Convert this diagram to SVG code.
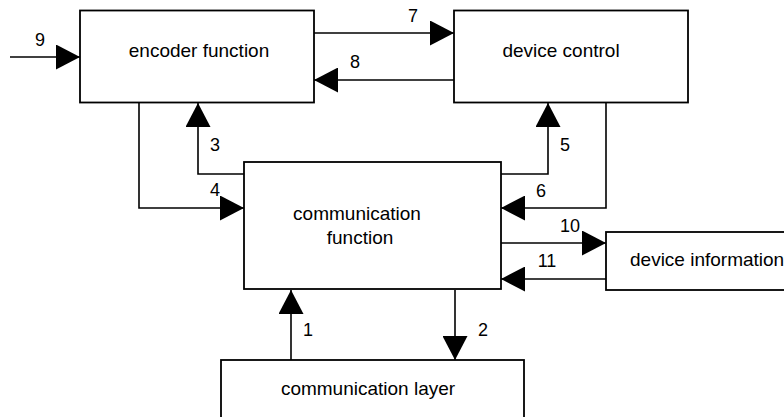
<svg xmlns="http://www.w3.org/2000/svg" width="784" height="417" viewBox="0 0 784 417">
<style>
.box{fill:#fff;stroke:#000;stroke-width:1.8}
.t{font-family:"Liberation Sans",Arial,sans-serif;font-size:19px;fill:#000}
.n{font-family:"Liberation Sans",Arial,sans-serif;font-size:18px;fill:#000;text-anchor:middle}
.c{fill:none;stroke:#000;stroke-width:1.6}
</style>
<defs>
<marker id="ah" markerUnits="userSpaceOnUse" markerWidth="24" markerHeight="25" refX="24" refY="12.5" orient="auto">
<path d="M0,0 L24,12.5 L0,25 Z" fill="#000"/>
</marker>
</defs>
<rect width="784" height="417" fill="#fff"/>
<g id="encoder">
<rect class="box" x="80" y="10.5" width="234" height="92"/>
<text class="t" x="199" y="57" text-anchor="middle">encoder function</text>
</g>
<g id="device-control">
<rect class="box" x="454" y="10.5" width="234" height="92"/>
<text class="t" x="561" y="57" text-anchor="middle">device control</text>
</g>
<g id="communication-function">
<rect class="box" x="244" y="162" width="257" height="127"/>
<text class="t" x="357" y="220" text-anchor="middle">communication</text>
<text class="t" x="360" y="244" text-anchor="middle">function</text>
</g>
<g id="device-information">
<rect class="box" x="606" y="232" width="200" height="58"/>
<text class="t" x="630" y="266">device information</text>
</g>
<g id="communication-layer">
<rect class="box" x="221" y="360" width="303" height="70"/>
<text class="t" x="368" y="395" text-anchor="middle">communication layer</text>
</g>
<g id="connectors">
<path class="c" d="M10,57 H80" marker-end="url(#ah)"/>
<path class="c" d="M314,33 H454" marker-end="url(#ah)"/>
<path class="c" d="M454,80 H314" marker-end="url(#ah)"/>
<path class="c" d="M244,174 H198 V103" marker-end="url(#ah)"/>
<path class="c" d="M139,103 V208 H244" marker-end="url(#ah)"/>
<path class="c" d="M501,174 H548 V103" marker-end="url(#ah)"/>
<path class="c" d="M606,103 V208 H501" marker-end="url(#ah)"/>
<path class="c" d="M501,243 H606" marker-end="url(#ah)"/>
<path class="c" d="M606,279 H501" marker-end="url(#ah)"/>
<path class="c" d="M291,360 V290" marker-end="url(#ah)"/>
<path class="c" d="M455,290 V360" marker-end="url(#ah)"/>
<text class="n" x="40" y="46">9</text>
<text class="n" x="413" y="22">7</text>
<text class="n" x="355" y="68">8</text>
<text class="n" x="215" y="151">3</text>
<text class="n" x="215" y="196">4</text>
<text class="n" x="565" y="151">5</text>
<text class="n" x="541" y="197">6</text>
<text class="n" x="570" y="232">10</text>
<text class="n" x="547" y="267">11</text>
<text class="n" x="308" y="336">1</text>
<text class="n" x="483" y="336">2</text>
</g>
</svg>
